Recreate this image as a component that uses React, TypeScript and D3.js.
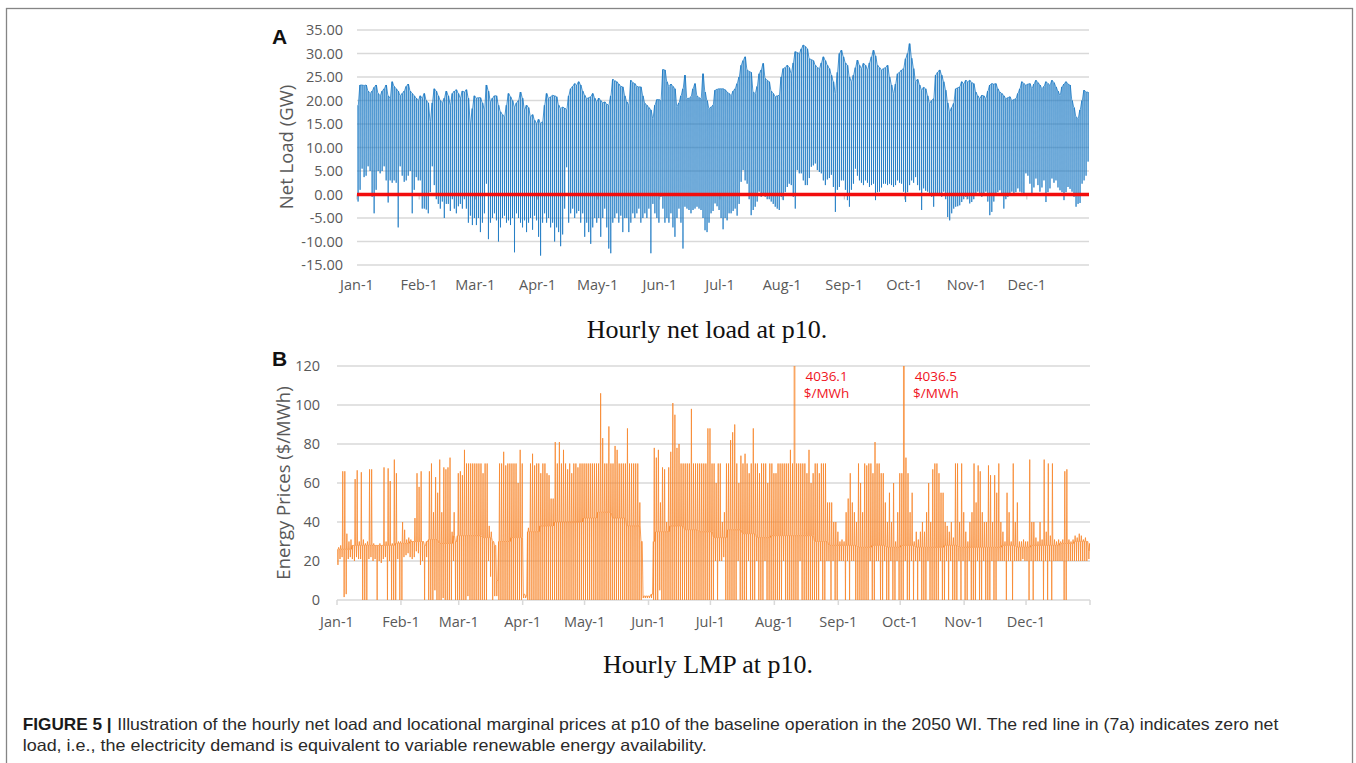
import * as d3 from "d3";

const YEAR = 2050;

// Hourly net load at p10 (GW): daily maximum / minimum, one row per month
const netLoadDailyMax: number[][] = [
  [19, 23.3, 23.3, 23.2, 23.3, 22, 21.5, 22, 22.8, 23.3, 21.5, 21, 22, 22.5, 23.3, 21, 20.5, 24, 23, 22.5, 22, 21, 21.5, 22, 23, 23.5, 22, 21.5, 21, 20.5, 20],
  [21, 20.5, 21.5, 20, 19.5, 15.5, 19.5, 22.5, 22, 21, 20, 19.5, 20.5, 22, 21, 19, 21.5, 22, 22.3, 21.5, 20.5, 22, 21.8, 22.3, 20.5, 15, 18.3, 21],
  [20.5, 20.6, 20.6, 19.5, 18, 23.3, 22, 19.7, 20.5, 21, 21, 19, 17.6, 17, 16.5, 19, 21.5, 20.8, 20, 18.6, 19.5, 20, 21.8, 20.5, 18, 19, 18.5, 16.5, 17, 15.8, 15.1],
  [16, 15.1, 15.5, 19, 21.5, 20.4, 20.8, 21.1, 21, 20.8, 19, 18.3, 18.6, 18.4, 18, 21, 22.5, 23, 23.6, 23.3, 24, 23.3, 22, 21.1, 20.4, 20.6, 20.8, 21.5, 20.5, 19.7],
  [20.5, 20, 19.5, 19.7, 19.2, 19, 21, 24.5, 24.2, 24, 23.5, 23, 22.9, 21, 19.7, 19, 24.3, 23.8, 23.6, 23, 22.9, 22.9, 21, 19.4, 19, 18.5, 18, 16.2, 19, 20.2, 20.2],
  [20, 26.6, 26.5, 24, 23, 23.5, 23, 22.5, 18.7, 19.5, 21, 22.5, 25.4, 20.4, 20.5, 20.8, 22.5, 23.6, 21, 20.6, 20.4, 25.7, 21.8, 20, 18.3, 18.6, 19, 22.2, 22.4, 22.5],
  [22.5, 22.5, 22.3, 21.8, 21.5, 21, 22, 22.5, 23.6, 25, 27.5, 28.5, 29.3, 26.5, 26.2, 26, 21.8, 21.5, 23, 25.7, 26.5, 27.9, 24.7, 24.3, 24, 22, 21.5, 20.8, 21, 21.1, 25],
  [26.8, 27, 27.5, 27, 25.7, 28, 30.4, 30.2, 30, 31, 31.8, 31.5, 31, 28.9, 28.7, 28.5, 27.5, 27, 26.8, 28, 29.3, 28.5, 27.5, 26.8, 25.4, 24, 21.5, 26, 30, 30.7, 29.3],
  [28, 27.5, 25, 24, 25.4, 27, 28.6, 27.5, 26.8, 27.9, 27.5, 26.5, 28, 29.3, 30.7, 29.5, 27.5, 27, 26.5, 26.8, 27, 27.5, 25, 23.3, 21.5, 23.5, 25.7, 26, 26.5, 26.8],
  [28.9, 30, 32.1, 29, 26.8, 24, 24.5, 23.3, 22.2, 22.8, 22.5, 21, 19.4, 20, 20.4, 25.4, 26, 26.5, 25.4, 24, 22.2, 19.5, 17.6, 18.5, 19.4, 22.5, 22.7, 22.9, 24, 23.5, 24.3],
  [24, 24.3, 23.8, 23.6, 21.8, 21, 20.4, 21.1, 21, 20.4, 22, 23.3, 23.6, 23.5, 23.6, 22.5, 21.8, 21.5, 21, 20.4, 20.6, 20.8, 20, 20.2, 20.4, 21.5, 22.5, 24, 23.6, 23.3],
  [23.5, 23.6, 22.5, 23.5, 24.3, 23.8, 23.3, 22.5, 23, 24, 23.6, 23.3, 24.3, 23.8, 22.9, 22, 21.1, 22.9, 23.5, 24, 23.5, 23.3, 20, 18.5, 16.5, 16.2, 18, 20, 22.2, 21.8, 21.8],
];

const netLoadDailyMin: number[][] = [
  [-1.5, 1, 5.5, 3.7, 4, 6, 5, -0.5, -4, 1, 5, 4.5, 5, 6, 3, -1.7, 3, 2.5, 3, 2.5, -7, 6, 4, 2.7, 3, 4, 5, -4, 1, 3.7, 3],
  [3, -3, -3, -3.2, -4, 0.5, 6, 2, -1, -2, -3, -1.5, -5, -2, -2, -3.5, -1, -3, -4, -2.5, -2, -3, -1, -3, -6, -4.5, -6.5, -5],
  [-6.5, -5, -8, -6, -4, 2.3, -9.5, -6, -5, -4, -5.5, -10, -7, -5, -4.5, -6, -5.5, -6.5, -5, -12.3, -4, -5, -6, -7, -5.5, -8, -6, -5, -7.5, -4.5, -5.5],
  [-9, -13, -6, -4, -6, -5, -7, -6, -10, -7, -8, -11, -8.5, -3, 5.8, -6, -4, -3, -5, -4, -3.5, -6, -4, -9, -6, -8, -10.5, -7, -5, -6],
  [-5, -9, -5, -3, -7, -11.5, -12.5, -6, -5, -4, -6, -4.5, -8, -5, -5, -8, -6, -4, -5, -4, -3, -6, -5, -4, -5, -3, -12.5, -2, -4, -5, -6],
  [-0.5, -3, -6, -5, -6, -4, -7, -9, -5, -3, -6, -11.5, -2.6, -3, -3.3, -4, -3.3, -3, -2.6, -3, -3.3, -5, -7.6, -8, -6, -4, -3.5, -1.9, -2.5, -3.3],
  [-5, -7.4, -5, -5.5, -4, -4, -3.5, -3, -4.5, -2, 2.7, 5.2, 3, 2.3, -1, -4.4, -3.3, -2.6, -1.5, 0.6, -0.5, 0, -0.5, -1, -1, -1.5, -2, -2.6, -3, -3.3, -0.5],
  [-1.2, 0.5, 1.6, 2.3, 2, -0.5, -3, 5.2, 4.5, 4.5, 3, 2, 2, 3.5, 5.9, 6.2, 6.6, 5.2, 4.8, 4.5, 3, 2, 3.2, 3.5, 4.2, 1.6, -3.7, 1, 1.6, 3, 3],
  [1, -1.2, -2.6, 1, 2.3, 5.5, 4, 3, 2.5, 2, 3, 2.5, 1.6, 2, 2.3, -1.2, 0.5, 0.6, 1.5, 2.3, 2.3, 2, 2.3, 2, 1.6, 2, 3, 2.5, 2.3, 0.6],
  [-1.6, 0.5, 2, 3, 2.5, 3.7, 2, 0.9, -3.3, 1.3, 0.8, 0.6, -0.2, -0.5, -2.6, 0, 0.2, 0, -0.5, 0.6, -1, -4.8, -5.5, -4, -3, -2.6, -2.5, -2.3, -1.6, -1, -0.5],
  [-1, -1.9, -1.6, -1, 0, 0.6, 0.3, -0.5, 0, 0.6, -1.5, -4.4, -3.7, -1.5, 0.2, 0.5, 0.9, -0.2, -3, -1, -0.5, 0.2, 0.6, 0.2, 0.5, 1.3, 0.6, 0.4, 0.2, 4.5],
  [4, 2.3, 0.2, 1.5, 3.4, 2, 0.6, 1.5, 3, -1.6, 0.5, 1.3, 3.4, 2.5, 3, 1.5, 0.9, 0.5, -1.2, 0.5, 1.6, 1.2, 0.6, -0.5, -2.6, -2, -1.8, 2.3, 3, 4, 7],
];

// Hourly LMP at p10 ($/MWh): daily maximum / minimum per month, typical level per week
const lmpDailyMax: number[][] = [
  [27, 28, 66, 66, 34, 30, 31, 28, 62, 66.5, 30, 65.5, 31, 29, 30, 67, 67, 29, 28, 28, 29, 28, 68, 30, 67.5, 61, 29, 72, 65, 30, 30],
  [40, 36, 31, 32, 31, 30, 42, 65, 58, 66, 30, 28, 30, 66, 70, 45, 63, 55, 72, 45, 68, 67, 68, 73, 35, 45, 30, 65],
  [66, 64, 77, 70, 70, 70, 70, 70, 70, 70, 70, 65, 70, 70, 38, 35, 30, 28, 10, 70, 70, 76, 69, 70, 70, 70, 70, 70, 60, 77, 70],
  [3, 2, 37, 70, 75, 69, 70, 70, 65, 70, 70, 65, 64, 52, 52, 81, 70, 81, 70, 77, 70, 67, 70, 65, 70, 70, 68, 70, 70, 70],
  [70, 70, 70, 70, 70, 70, 70, 106, 83, 70, 70, 89, 70, 70, 79, 77, 70, 70, 70, 70, 88, 70, 70, 70, 70, 70, 50, 30, 2, 2, 2],
  [2, 3, 78, 73, 77, 50, 68, 67, 40, 68, 76, 101, 95, 78, 80, 70, 70, 70, 70, 70, 98, 70, 70, 70, 70, 70, 70, 70, 88, 88],
  [70, 70, 60, 70, 70, 40, 45, 70, 70, 82, 86, 90, 70, 60, 74, 70, 75, 70, 65, 70, 88, 70, 70, 65, 70, 70, 70, 60, 70, 70, 65],
  [65, 70, 70, 70, 70, 70, 70, 77, 70, 4036.1, 70, 70, 70, 70, 70, 65, 77, 60, 65, 70, 70, 65, 70, 70, 70, 50, 50, 50, 40, 40, 35],
  [30, 31, 30, 45, 52, 65, 50, 45, 40, 70, 60, 45, 70, 69, 70, 70, 65, 81, 70, 70, 65, 65, 50, 40, 55, 40, 60, 30, 45, 65],
  [65, 4036.5, 73, 65, 45, 55, 30, 35, 31, 35, 40, 35, 45, 60, 40, 67, 70, 70, 65, 55, 55, 40, 38, 35, 40, 32, 70, 70, 40, 70, 45],
  [35, 30, 40, 45, 70, 50, 69, 66, 45, 40, 40, 69, 64, 40, 64, 55, 70, 40, 35, 30, 55, 45, 30, 70, 40, 50, 30, 30, 31, 30],
  [30, 72, 40, 40, 32, 30, 40, 31, 72, 35, 70, 33, 70, 31, 30, 31, 30, 31, 66, 67, 31, 30, 31, 33, 32, 34, 33, 31, 32, 30, 29],
];

const lmpDailyMin: number[][] = [
  [18, 21, 22, 1.5, 3, 21, 22, 21, 20, 22, 21, 21, 0, 0, 0, 21, 22, 20, 21, 0, 20, 19, 21, 22, 0, 20, 0, 0, 0, 21, 0],
  [0, 22, 23, 24, 22, 21, 22, 25, 24, 18, 20, 0, 22, 0, 0, 0, 5, 0, 0, 0, 1, 0, 0, 0, 0, 20, 0, 0],
  [0, 0, 0, 0, 2, 0, 0, 0, 0, 0, 0, 0, 0, 0, 20, 12, 0, 2, 2, 0, 0, 0, 0, 0, 0, 0, 0, 0, 0, 0, 0],
  [1, 1, 0, 0, 0, 0, 0, 0, 0, 0, 0, 0, 0, 0, 0, 0, 0, 0, 0, 0, 0, 0, 0, 0, 0, 0, 0, 0, 0, 0],
  [0, 0, 0, 0, 0, 0, 0, 0, 0, 0, 0, 0, 0, 0, 0, 0, 0, 0, 0, 0, 0, 0, 0, 0, 0, 0, 0, 0, 1, 1, 1],
  [1, 1, 0, 0, 0, 5, 0, 0, 0, 0, 0, 0, 0, 0, 0, 0, 0, 0, 0, 0, 0, 0, 0, 0, 0, 0, 0, 0, 0, 0],
  [0, 0, 20, 0, 20, 20, 22, 0, 0, 0, 0, 0, 0, 20, 0, 0, 0, 0, 20, 0, 0, 0, 20, 0, 0, 0, 20, 0, 0, 0, 0],
  [0, 0, 0, 0, 20, 0, 0, 0, 0, 0, 0, 0, 20, 0, 0, 0, 0, 0, 0, 0, 0, 0, 20, 0, 0, 20, 20, 0, 20, 0, 0],
  [20, 20, 20, 0, 20, 0, 20, 20, 0, 0, 0, 0, 0, 0, 0, 20, 0, 0, 20, 20, 0, 0, 20, 0, 0, 20, 0, 0, 20, 0],
  [0, 0, 20, 0, 0, 20, 0, 20, 0, 20, 0, 0, 0, 20, 0, 0, 0, 0, 0, 20, 0, 0, 20, 0, 20, 0, 0, 0, 20, 0, 20],
  [0, 0, 20, 0, 0, 0, 20, 0, 0, 20, 0, 0, 0, 20, 0, 0, 20, 20, 20, 20, 0, 20, 20, 0, 20, 20, 20, 20, 21, 20],
  [20, 0, 20, 0, 20, 20, 20, 20, 0, 20, 0, 20, 0, 20, 20, 20, 20, 20, 0, 0, 20, 20, 20, 20, 20, 20, 20, 20, 20, 20, 21],
];

const lmpWeeklyLevel = [
  26, 28, 28, 28, 29, 30, 31, 29, 33, 33, 32, 30, 32, 35, 38, 40, 40, 42, 45, 42, 38, 30, 35, 38, 36, 35,
  32, 36, 34, 32, 33, 33, 33, 30, 28, 28, 27, 28, 27, 28, 27, 27, 28, 27, 27, 27, 28, 27, 28, 28, 29, 30, 25,
];

const netLoadTicks = [35, 30, 25, 20, 15, 10, 5, 0, -5, -10, -15];
const lmpTicks = [0, 20, 40, 60, 80, 100, 120];

const AXIS_FONT = "'Open Sans', 'DejaVu Sans', sans-serif";
const SERIF = "'Liberation Serif', 'DejaVu Serif', serif";
const CAPTION_FONT = "'Liberation Sans', Arial, sans-serif";
const GRID = "#d9d9d9";
const LABEL = "#595959";
const BLUE = "#1676c1";
const ORANGE = "#f7862c";

const yearStart = new Date(YEAR, 0, 1);
const yearEnd = new Date(YEAR + 1, 0, 1);
const monthStarts = d3.timeMonth.range(yearStart, yearEnd);
const monthFmt = d3.timeFormat("%b-%-d");

type Pt = [Date, number];

const at = (m: number, i: number, h: number) => new Date(YEAR, m, 1 + i, h);

function netLoadSeries(): Pt[] {
  const pts: Pt[] = [];
  netLoadDailyMax.forEach((row, m) =>
    row.forEach((hi, i) => {
      const lo = netLoadDailyMin[m][i];
      pts.push([at(m, i, 10), hi], [at(m, i, 13), lo], [at(m, i, 16), hi]);
    })
  );
  return pts;
}

function lmpSeries(): Pt[] {
  const pts: Pt[] = [];
  lmpDailyMax.forEach((row, m) =>
    row.forEach((hi, i) => {
      const lo = lmpDailyMin[m][i];
      const day = d3.timeDay.count(yearStart, at(m, i, 0));
      const wk = Math.min(Math.floor(day / 7), lmpWeeklyLevel.length - 1);
      const base = Math.max(lo, Math.min(hi, lmpWeeklyLevel[wk]));
      pts.push(
        [at(m, i, 8), base],
        [at(m, i, 11), lo],
        [at(m, i, 14), base],
        [at(m, i, 19), hi],
        [at(m, i, 23), base]
      );
    })
  );
  return pts;
}

function NetLoadPanel() {
  const x = d3.scaleTime().domain([yearStart, yearEnd]).range([357, 1089]);
  const y = d3.scaleLinear().domain([-15, 35]).range([265, 30]);
  const line = d3.line<Pt>().x((d) => x(d[0])).y((d) => y(d[1]));
  const [x0, x1] = x.range();
  return (
    <g>
      <text x={272} y={44} fontFamily="'Liberation Sans', Arial, sans-serif" fontWeight={700} fontSize={21} fill="#111">A</text>
      {netLoadTicks.map((t) => (
        <g key={t}>
          <line x1={x0} x2={x1} y1={y(t)} y2={y(t)} stroke={GRID} strokeWidth={1.5} />
          <text x={343} y={y(t)} dy="0.36em" textAnchor="end" fontFamily={AXIS_FONT} fontSize={14.5} fill={LABEL}>
            {t.toFixed(2)}
          </text>
        </g>
      ))}
      {monthStarts.map((d) => (
        <line key={+d} x1={x(d)} x2={x(d)} y1={y(0)} y2={y(0) + 5} stroke="#bfbfbf" strokeWidth={1} />
      ))}
      <defs>
        <clipPath id="clipA">
          <rect x={x0} y={y(35)} width={x1 - x0} height={y(-15) - y(35)} />
        </clipPath>
      </defs>
      <path d={line(netLoadSeries()) ?? ""} fill="none" stroke={BLUE} strokeWidth={0.75} strokeLinejoin="round" clipPath="url(#clipA)" />
      <line x1={x0} x2={x1} y1={y(0)} y2={y(0)} stroke="#f20d0d" strokeWidth={3.5} />
      {monthStarts.map((d) => (
        <text key={+d} x={x(d)} y={290} textAnchor="middle" fontFamily={AXIS_FONT} fontSize={14.5} fill={LABEL}>
          {monthFmt(d)}
        </text>
      ))}
      <text transform="translate(293,147) rotate(-90)" textAnchor="middle" fontFamily={AXIS_FONT} fontSize={18.5} fill={LABEL}>
        Net Load (GW)
      </text>
      <text x={707} y={338} textAnchor="middle" fontFamily={SERIF} fontSize={26} fill="#111">
        Hourly net load at p10.
      </text>
    </g>
  );
}

function LmpPanel() {
  const x = d3.scaleTime().domain([yearStart, yearEnd]).range([337, 1090]);
  const y = d3.scaleLinear().domain([0, 120]).range([600, 366]);
  const line = d3.line<Pt>().x((d) => x(d[0])).y((d) => y(d[1]));
  const [x0, x1] = x.range();
  const series = lmpSeries();
  const [yMin, yMax] = y.domain();
  const offScale = series.filter((p) => p[1] > yMax);
  return (
    <g>
      <text x={272} y={366} fontFamily="'Liberation Sans', Arial, sans-serif" fontWeight={700} fontSize={21} fill="#111">B</text>
      {lmpTicks.map((t) => (
        <g key={t}>
          <line x1={x0} x2={x1} y1={y(t)} y2={y(t)} stroke={GRID} strokeWidth={1.5} />
          <text x={320} y={y(t)} dy="0.36em" textAnchor="end" fontFamily={AXIS_FONT} fontSize={14.5} fill={LABEL}>
            {t}
          </text>
        </g>
      ))}
      {[...monthStarts, yearEnd].map((d) => (
        <line key={+d} x1={x(d)} x2={x(d)} y1={y(0)} y2={y(0) + 5} stroke={GRID} strokeWidth={1.5} />
      ))}
      <defs>
        <clipPath id="clipB">
          <rect x={x0} y={y(yMax)} width={x1 - x0} height={y(yMin) - y(yMax) + 1} />
        </clipPath>
      </defs>
      <path d={line(series) ?? ""} fill="none" stroke={ORANGE} strokeWidth={0.8} strokeLinejoin="round" clipPath="url(#clipB)" />
      {offScale.map((p) => (
        <text key={+p[0]} x={x(p[0]) + 32} y={y(yMax)} fontFamily={AXIS_FONT} fontSize={13.5} fill="#f0141e" textAnchor="middle">
          <tspan x={x(p[0]) + 32} dy={15}>{p[1].toFixed(1)}</tspan>
          <tspan x={x(p[0]) + 32} dy={17}>$/MWh</tspan>
        </text>
      ))}
      {monthStarts.map((d) => (
        <text key={+d} x={x(d)} y={627} textAnchor="middle" fontFamily={AXIS_FONT} fontSize={14.5} fill={LABEL}>
          {monthFmt(d)}
        </text>
      ))}
      <text transform="translate(290,483) rotate(-90)" textAnchor="middle" fontFamily={AXIS_FONT} fontSize={18.5} fill={LABEL}>
        Energy Prices ($/MWh)
      </text>
      <text x={708} y={673} textAnchor="middle" fontFamily={SERIF} fontSize={26} fill="#111">
        Hourly LMP at p10.
      </text>
    </g>
  );
}

export default function App() {
  return (
    <div style={{ position: "absolute", left: 0, top: 0 }}>
      <svg width={1356} height={763} viewBox="0 0 1356 763" style={{ display: "block", background: "#fff" }}>
        <rect x={6.5} y={8.5} width={1346} height={800} fill="none" stroke="#858585" strokeWidth={1.3} />
        <NetLoadPanel />
        <LmpPanel />
        <text x={22.7} y={730} fontFamily={CAPTION_FONT} fontSize={16.5} fontWeight={700} fill="#1a1a1a" textLength={89} lengthAdjust="spacingAndGlyphs">
          FIGURE 5 |
        </text>
        <text x={117.3} y={730} fontFamily={CAPTION_FONT} fontSize={16.5} fill="#2a2a2a" textLength={1161} lengthAdjust="spacingAndGlyphs">
          Illustration of the hourly net load and locational marginal prices at p10 of the baseline operation in the 2050 WI. The red line in (7a) indicates zero net
        </text>
        <text x={22.7} y={750.5} fontFamily={CAPTION_FONT} fontSize={16.5} fill="#2a2a2a" textLength={684} lengthAdjust="spacingAndGlyphs">
          load, i.e., the electricity demand is equivalent to variable renewable energy availability.
        </text>
      </svg>
    </div>
  );
}
